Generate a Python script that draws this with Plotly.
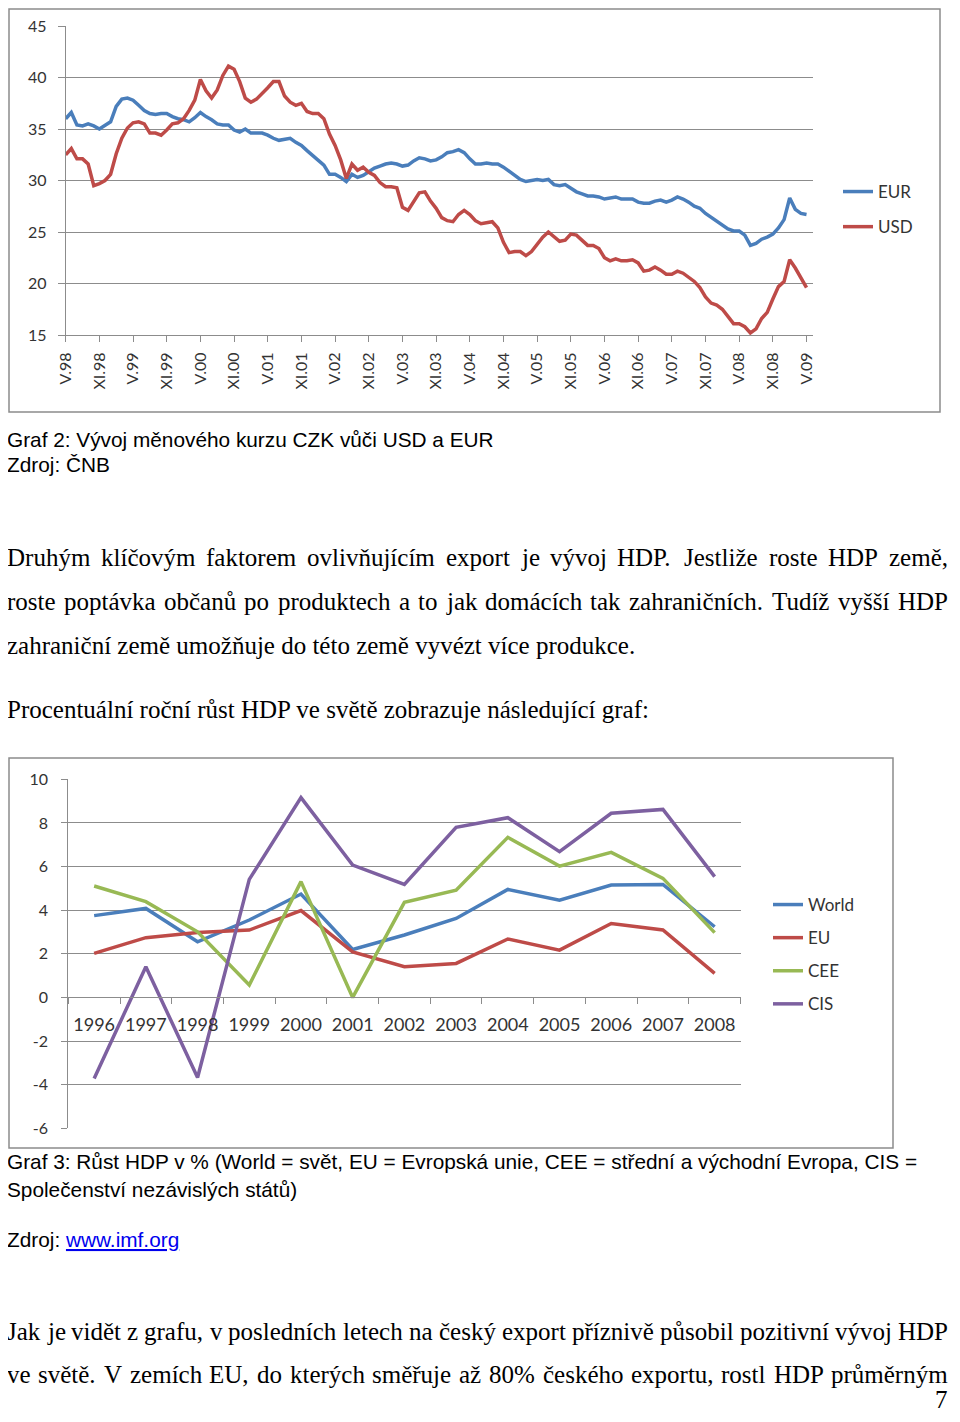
import unicodedata
import plotly.graph_objects as go

# the page body keeps an 8 px margin on every side, so the figure is made
# 16 px smaller (no scrollbars) and page pixels are shifted in fx / fy
PAGE_W, PAGE_H = 960, 1422
OFF = 8
W, H = PAGE_W - 2 * OFF, PAGE_H - 2 * OFF

# Graf 2: kurz CZK vuci EUR a USD, mesicne od V.98 do V.09
kurz_eur = [
    36.0, 36.6, 35.4, 35.3, 35.5, 35.3, 35.0, 35.4, 35.7, 37.2,
    37.9, 38.0, 37.8, 37.3, 36.8, 36.5, 36.4, 36.5, 36.5, 36.2,
    36.0, 35.9, 35.7, 36.1, 36.6, 36.2, 35.9, 35.5, 35.4, 35.4,
    34.9, 34.7, 35.0, 34.6, 34.6, 34.6, 34.4, 34.1, 33.9, 34.0,
    34.1, 33.7, 33.4, 32.9, 32.4, 31.9, 31.5, 30.6, 30.6, 30.3,
    29.9, 30.6, 30.3, 30.5, 30.9, 31.2, 31.4, 31.6, 31.7, 31.6,
    31.4, 31.5, 31.9, 32.2, 32.1, 31.9, 32.0, 32.3, 32.7, 32.8,
    33.0, 32.7, 32.1, 31.6, 31.6, 31.7, 31.6, 31.6, 31.3, 30.9,
    30.4, 30.1, 29.9, 30.0, 30.1, 30.0, 30.1, 29.6, 29.5, 29.6,
    29.2, 28.9, 28.7, 28.5, 28.5, 28.4, 28.2, 28.3, 28.4, 28.2,
    28.2, 28.2, 27.9, 27.8, 27.8, 28.0, 28.1, 27.9, 28.1, 28.4,
    28.2, 27.9, 27.5, 27.3, 26.8, 26.4, 26.1, 25.6, 25.3, 25.1,
    25.1, 24.7, 23.7, 23.9, 24.3, 24.5, 24.8, 25.4, 26.2, 28.3,
    27.2, 26.8, 26.7,
]
kurz_usd = [
    32.5, 33.1, 32.1, 32.1, 31.6, 29.5, 29.7, 30.0, 30.6, 32.6,
    34.1, 35.1, 35.6, 35.7, 35.5, 34.6, 34.6, 34.4, 34.9, 35.5,
    35.6, 36.0, 36.8, 37.8, 39.8, 38.7, 38.0, 38.8, 40.2, 41.1,
    40.8, 39.6, 38.0, 37.6, 37.9, 38.4, 39.0, 39.6, 39.6, 38.2,
    37.6, 37.3, 37.5, 36.7, 36.5, 36.5, 36.0, 34.5, 33.4, 32.0,
    30.2, 31.6, 31.0, 31.3, 30.8, 30.5, 29.8, 29.4, 29.4, 29.3,
    27.4, 27.1, 28.0, 28.8, 28.9, 28.0, 27.3, 26.4, 26.1, 26.0,
    26.7, 27.1, 26.7, 26.1, 25.8, 25.9, 26.0, 25.4, 24.0, 23.0,
    23.1, 23.1, 22.7, 23.1, 23.8, 24.5, 25.0, 24.6, 24.1, 24.2,
    24.8, 24.7, 24.2, 23.7, 23.7, 23.4, 22.5, 22.2, 22.4, 22.2,
    22.2, 22.3, 22.0, 21.2, 21.3, 21.6, 21.3, 20.9, 20.9, 21.2,
    21.0, 20.6, 20.2, 19.6, 18.7, 18.1, 17.9, 17.5, 16.8, 16.1,
    16.1, 15.8, 15.2, 15.6, 16.6, 17.2, 18.5, 19.7, 20.2, 22.3,
    21.5, 20.6, 19.6,
]
kurz_labels = [
    "V.98", "XI.98", "V.99", "XI.99", "V.00", "XI.00", "V.01", "XI.01",
    "V.02", "XI.02", "V.03", "XI.03", "V.04", "XI.04", "V.05", "XI.05",
    "V.06", "XI.06", "V.07", "XI.07", "V.08", "XI.08", "V.09",
]

# Graf 3: rust HDP v %
roky = ["1996", "1997", "1998", "1999", "2000", "2001", "2002",
        "2003", "2004", "2005", "2006", "2007", "2008"]
hdp_world = [3.75, 4.08, 2.55, 3.55, 4.74, 2.2, 2.86, 3.62, 4.95, 4.46, 5.15, 5.18, 3.24]
hdp_eu = [2.02, 2.74, 2.98, 3.09, 3.98, 2.09, 1.41, 1.56, 2.68, 2.17, 3.39, 3.09, 1.10]
hdp_cee = [5.11, 4.39, 3.01, 0.57, 5.31, 0.0, 4.36, 4.92, 7.34, 6.02, 6.65, 5.46, 2.97]
hdp_cis = [-3.72, 1.41, -3.67, 5.41, 9.16, 6.07, 5.18, 7.80, 8.24, 6.68, 8.44, 8.62, 5.54]
hdp_ticks = [-6, -4, -2, 0, 2, 4, 6, 8, 10]

BLUE = "#4A7EBB"
RED = "#BE4B48"
GREEN = "#98B954"
PURPLE = "#7D60A0"
GRID = "#8C8C8C"
CHART_FONT = "Lato"
SERIF = "Liberation Serif"
SANS = "Liberation Sans"
BODY_SIZE = 25
CAPTION_SIZE = 20.8

# Times-like advance widths (per 1000 em), used to justify body lines
TIMES_W = dict(zip("abcdefghijklmnopqrstuvwxyz",
                   [444, 500, 444, 500, 444, 333, 500, 500, 278, 278, 500, 278, 778,
                    500, 500, 500, 500, 333, 389, 278, 500, 500, 722, 500, 500, 444]))
TIMES_W.update(zip("ABCDEFGHIJKLMNOPQRSTUVWXYZ",
                   [722, 667, 667, 722, 611, 556, 722, 722, 333, 389, 722, 611, 889,
                    722, 722, 556, 722, 667, 556, 611, 722, 722, 944, 722, 722, 611]))
TIMES_W.update({d: 500 for d in "0123456789"})
TIMES_W.update({".": 250, ",": 250, ":": 278, "%": 833, "(": 333, ")": 333})


def fx(px):
    return (px - OFF) / W


def fy(py):
    return 1 - (py - OFF) / H


def word_width(word, size):
    total = 0
    for ch in word:
        base = unicodedata.normalize("NFD", ch)[0]
        total += TIMES_W.get(base, 500)
    return total * size / 1000


fig = go.Figure()

months = list(range(len(kurz_eur)))
fig.add_trace(go.Scatter(x=months, y=kurz_eur, name="EUR", mode="lines",
                         line=dict(color=BLUE, width=3.5), legendgroup="eur",
                         xaxis="x", yaxis="y", legend="legend"))
fig.add_trace(go.Scatter(x=months, y=kurz_usd, name="USD", mode="lines",
                         line=dict(color=RED, width=3.5), legendgroup="usd",
                         xaxis="x", yaxis="y", legend="legend"))

for name, vals, col in [("World", hdp_world, BLUE), ("EU", hdp_eu, RED),
                        ("CEE", hdp_cee, GREEN), ("CIS", hdp_cis, PURPLE)]:
    fig.add_trace(go.Scatter(x=roky, y=vals, name=name, mode="lines",
                             line=dict(color=col, width=3.5), legendgroup=name,
                             xaxis="x2", yaxis="y2", legend="legend2"))

# chart 2 plot area (page pixels); x axis crosses at 0
y2_top, y2_bot = 779.3, 1128.3
zero_pos = fy(y2_bot) + (6 / 16) * (fy(y2_top) - fy(y2_bot))

axis_font = dict(family=CHART_FONT, size=16, color="#333333")

fig.update_layout(
    width=W, height=H,
    margin=dict(l=0, r=0, t=0, b=0, autoexpand=False),
    paper_bgcolor="white", plot_bgcolor="white",
    showlegend=True,
    xaxis=dict(
        domain=[fx(65.7), fx(812.7)], range=[0, 133.1],
        tickvals=list(range(0, 133, 6)), ticktext=kurz_labels,
        tickangle=-90, ticks="outside", ticklen=6, tickcolor=GRID,
        ticklabelstandoff=4,
        showgrid=False, zeroline=False, showline=True, linecolor=GRID,
        tickfont=axis_font, anchor="y",
    ),
    yaxis=dict(
        domain=[fy(335), fy(26)], range=[15, 45], dtick=5,
        ticks="outside", ticklen=7, tickcolor=GRID, ticklabelstandoff=8,
        showgrid=True, gridcolor=GRID, gridwidth=1, zeroline=False,
        showline=True, linecolor=GRID, tickfont=axis_font, anchor="x",
    ),
    xaxis2=dict(
        domain=[fx(68.3), fx(740.5)], type="category", range=[-0.5, 12.5],
        tickson="boundaries", ticks="outside", ticklen=6, tickcolor=GRID,
        ticklabelstandoff=11,
        showgrid=False, zeroline=False, showline=True, linecolor=GRID,
        anchor="free", position=zero_pos,
        tickfont=dict(family=CHART_FONT, size=18, color="#333333"),
    ),
    yaxis2=dict(
        domain=[fy(y2_bot), fy(y2_top)], range=[-6, 10],
        tickvals=hdp_ticks, ticktext=[str(t) for t in hdp_ticks],
        ticks="outside", ticklen=6, tickcolor=GRID, ticklabelstandoff=10,
        showgrid=True, gridcolor=GRID, gridwidth=1, zeroline=False,
        showline=True, linecolor=GRID, tickfont=axis_font, anchor="x2",
    ),
    legend=dict(x=fx(838), y=fy(174), xanchor="left", yanchor="top",
                font=dict(family=CHART_FONT, size=17, color="#333333"),
                tracegroupgap=10, bgcolor="rgba(0,0,0,0)"),
    legend2=dict(x=fx(768), y=fy(887), xanchor="left", yanchor="top",
                 font=dict(family=CHART_FONT, size=17, color="#333333"),
                 tracegroupgap=8, bgcolor="rgba(0,0,0,0)"),
)

# chart frames (left / top edges sit just inside the figure)
fig.add_shape(type="rect", xref="paper", yref="paper",
              x0=fx(9), x1=fx(940), y0=fy(412), y1=fy(9),
              line=dict(color="#8C8C8C", width=1.5))
fig.add_shape(type="rect", xref="paper", yref="paper",
              x0=fx(9), x1=fx(893), y0=fy(1148), y1=fy(758),
              line=dict(color="#8C8C8C", width=1.5))


def add_text(txt, ypx, fam, size, xpx=5):
    fig.add_annotation(text=txt, xref="paper", yref="paper", x=fx(xpx), y=fy(ypx),
                       xanchor="left", yanchor="middle", showarrow=False,
                       font=dict(family=fam, size=size, color="black"))


def add_justified(txt, ypx, size, left=8, right=949):
    words = txt.split(" ")
    widths = [word_width(w, size) for w in words]
    gap = (right - left - sum(widths)) / (len(words) - 1)
    pos = left
    for w, wd in zip(words, widths):
        add_text(w, ypx, SERIF, size, xpx=pos - 3)
        pos += wd + gap


add_text("Graf 2: Vývoj měnového kurzu CZK vůči USD a EUR", 440, SANS, CAPTION_SIZE)
add_text("Zdroj: ČNB", 464, SANS, CAPTION_SIZE)
add_justified("Druhým klíčovým faktorem ovlivňujícím export je vývoj HDP. Jestliže roste HDP země,", 557, BODY_SIZE)
add_justified("roste poptávka občanů po produktech a to jak domácích tak zahraničních. Tudíž vyšší HDP", 601, BODY_SIZE)
add_text("zahraniční země umožňuje do této země vyvézt více produkce.", 645, SERIF, BODY_SIZE)
add_text("Procentuální roční růst HDP ve světě zobrazuje následující graf:", 709, SERIF, BODY_SIZE)
add_text("Graf 3: Růst HDP v % (World = svět, EU = Evropská unie, CEE = střední a východní Evropa, CIS =",
         1161, SANS, CAPTION_SIZE)
add_text("Společenství nezávislých států)", 1189, SANS, CAPTION_SIZE)
add_text("Zdroj: <span style='color:#0000EE'><u>www.imf.org</u></span>", 1239, SANS, CAPTION_SIZE)
add_justified("Jak je vidět z grafu, v posledních letech na český export příznivě působil pozitivní vývoj HDP",
              1331, BODY_SIZE)
add_justified("ve světě. V zemích EU, do kterých směřuje až 80% českého exportu, rostl HDP průměrným",
              1374, BODY_SIZE)

fig.add_annotation(text="7", xref="paper", yref="paper", x=fx(950), y=fy(1399),
                   xanchor="right", yanchor="middle", showarrow=False,
                   font=dict(family=SERIF, size=BODY_SIZE, color="black"))

fig.write_html("out.html")
